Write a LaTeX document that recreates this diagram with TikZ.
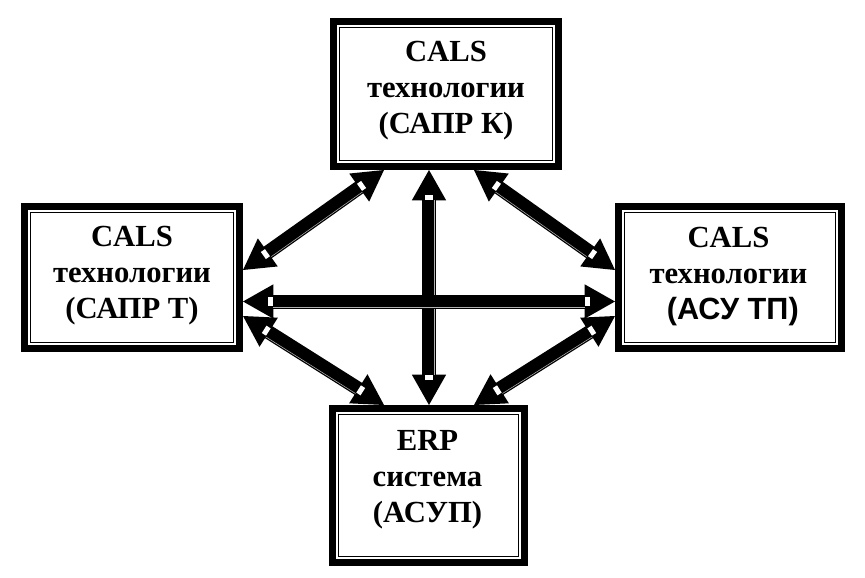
\documentclass[tikz,border=0pt]{standalone}
\usepackage{fontspec}
\setmainfont{Liberation Serif}
\newfontfamily\sansbold{Liberation Sans}
\usetikzlibrary{calc}
\tikzset{
  boxnode/.style={draw=black, line width=5.6pt, outer sep=0pt, inner sep=0pt, rectangle},
  innerline/.style={draw=black, line width=1.1pt},
  boxtext/.style={align=center, inner sep=0pt, font=\fontsize{23pt}{27pt}\selectfont\bfseries},
  headfill/.style={fill=black},
  shaft/.style={draw=black, line width=10.5pt},
  shine/.style={draw=black!30, line width=0.4pt},
  tabout/.style={draw=black, line width=8pt},
  tabin/.style={draw=white, line width=6.5pt}
}
\newcommand{\blockarrow}[2]{%
  \path ($(#1)!22.5pt!(#2)$) coordinate (p1) ($(#2)!22.5pt!(#1)$) coordinate (p2);
  \draw[shaft] ($(#1)!20pt!(#2)$) -- ($(#2)!20pt!(#1)$);
  \fill[headfill] ($(#1)!26.2pt!29.5:(#2)$) -- (#1) -- ($(#1)!26.2pt!-29.5:(#2)$) -- cycle;
  \fill[headfill] ($(#2)!26.2pt!29.5:(#1)$) -- (#2) -- ($(#2)!26.2pt!-29.5:(#1)$) -- cycle;
  \draw[shine] ($(p1)!4.1pt!-90:(p2)$) -- ($(p2)!4.1pt!90:(p1)$);
  \draw[tabout] ($(#1)!18pt!(#2)$) -- ($(#1)!23.25pt!(#2)$);
  \draw[tabin] ($(#1)!18.75pt!(#2)$) -- ($(#1)!22.5pt!(#2)$);
  \draw[tabout] ($(#2)!18pt!(#1)$) -- ($(#2)!23.25pt!(#1)$);
  \draw[tabin] ($(#2)!18.75pt!(#1)$) -- ($(#2)!22.5pt!(#1)$);
}
\begin{document}
\begin{tikzpicture}[x=0.75pt,y=-0.75pt]
\useasboundingbox (0,0) rectangle (865,578);
% boxes
\node[boxnode, minimum width=168.4pt, minimum height=108.4pt] (T) at (446,94) {};
\node[boxnode, minimum width=160.9pt, minimum height=106.15pt] (L) at (132,277.5) {};
\node[boxnode, minimum width=166.9pt, minimum height=106.15pt] (R) at (730,277.5) {};
\node[boxnode, minimum width=143.65pt, minimum height=115.15pt] (B) at (428.5,485.5) {};
\foreach \n in {T,L,R,B}{
  \draw[innerline] ($(\n.north west)+(6,6)$) rectangle ($(\n.south east)+(-6,-6)$);
}
% texts
\node[boxtext] (Tt) at (446,91) {CALS\\технологии\\(САПР К)};
\node[boxtext] (Lt) at (132,275.5) {CALS\\технологии\\(САПР Т)};
\node[boxtext] (Rt) at (728.5,276.5) {CALS\\технологии\\{\sansbold\bfseries\hspace*{0.28em}(АСУ ТП)}};
\node[boxtext] (Bt) at (427.5,479.5) {ERP\\система\\(АСУП)};
% arrow end points on box borders
\coordinate (vB) at (429,405);
\coordinate (vT) at (429,170);
\coordinate (hL) at (243,301.5);
\coordinate (hR) at (615,301.5);
\coordinate (tlL) at (243,270);
\coordinate (tlT) at (384,170);
\coordinate (trT) at (474,170);
\coordinate (trR) at (615,270);
\coordinate (blL) at (243,316);
\coordinate (blB) at (384,405);
\coordinate (brB) at (474,405);
\coordinate (brR) at (615,316);
% arrows
\blockarrow{vB}{vT}
\blockarrow{hL}{hR}
\blockarrow{tlL}{tlT}
\blockarrow{trT}{trR}
\blockarrow{blL}{blB}
\blockarrow{brB}{brR}
\end{tikzpicture}
\end{document}
